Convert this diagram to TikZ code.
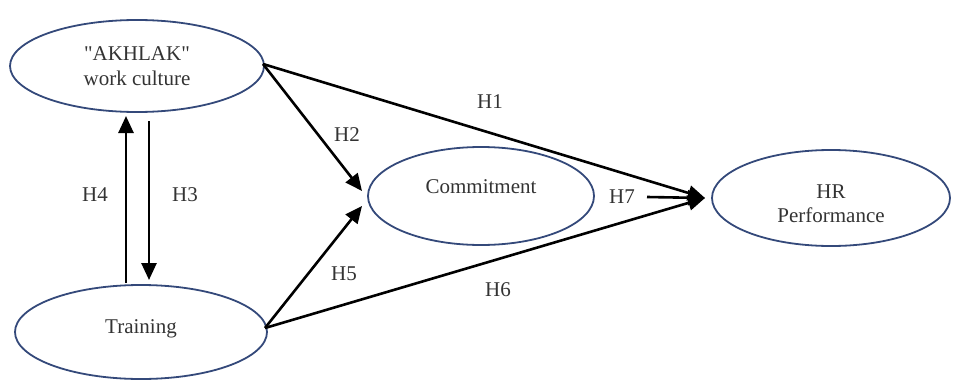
\documentclass[tikz,border=0pt]{standalone}
\usepackage{fontspec}
\newfontfamily\figfont{Liberation Serif}
\usetikzlibrary{shapes.geometric,arrows.meta}
\definecolor{rim}{HTML}{34497A}
\definecolor{ink}{HTML}{333333}
% place one line of text with its baseline a given distance above the node centre
\newcommand{\lineat}[2]{\makebox[0pt]{\raisebox{#1}[0pt][0pt]{#2}}}
\tikzset{
  construct/.style={ellipse, draw=rim, line width=1.8pt, inner sep=0pt,
    text=ink, font=\figfont\fontsize{21}{24}\selectfont},
  path/.style={draw=black, line width=2.6pt,
    -{Triangle[length=17pt,width=15pt]}},
  hyp/.style={text=ink, font=\figfont\fontsize{21}{24}\selectfont, inner sep=0pt}
}
\begin{document}
\begin{tikzpicture}[x=1pt,y=-1pt]
  \useasboundingbox (0,0) rectangle (953,380);

  % constructs
  \node[construct, minimum width=254pt, minimum height=92pt] (ak) at (137,66)
    {\lineat{6pt}{"AKHLAK"}\lineat{-19pt}{work culture}};
  \node[construct, minimum width=252pt, minimum height=94pt] (tr) at (141,332)
    {\lineat{-1pt}{Training}};
  \node[construct, minimum width=226pt, minimum height=98pt] (cm) at (481,196)
    {\lineat{3pt}{Commitment}};
  \node[construct, minimum width=238pt, minimum height=96pt] (hr) at (831,198)
    {\lineat{0pt}{HR}\lineat{-24pt}{Performance}};

  % arrow end points
  \coordinate (hrin) at (705,198);
  \coordinate (cmtop) at (362,191);
  \coordinate (cmbot) at (362,206);
  \coordinate (h4a) at (126,283);
  \coordinate (h4b) at (126,116);
  \coordinate (h3a) at (149,121);
  \coordinate (h3b) at (149,280);
  \coordinate (h7a) at (647,197);
  \coordinate (akout) at (263,64);
  \coordinate (trout) at (265,328);

  % paths
  \draw[path] (akout) -- (hrin);
  \draw[path] (akout) -- (cmtop);
  \draw[path] (trout) -- (cmbot);
  \draw[path] (trout) -- (hrin);
  \draw[path] (h7a) -- (hrin);
  \draw[path] (h4a) -- (h4b);
  \draw[path] (h3a) -- (h3b);

  % hypothesis labels
  \node[hyp] (l1) at (490,102) {H1};
  \node[hyp] (l2) at (347,135) {H2};
  \node[hyp] (l3) at (185,195) {H3};
  \node[hyp] (l4) at (95,195) {H4};
  \node[hyp] (l5) at (344,274) {H5};
  \node[hyp] (l6) at (498,290) {H6};
  \node[hyp] (l7) at (622,197) {H7};
\end{tikzpicture}
\end{document}
